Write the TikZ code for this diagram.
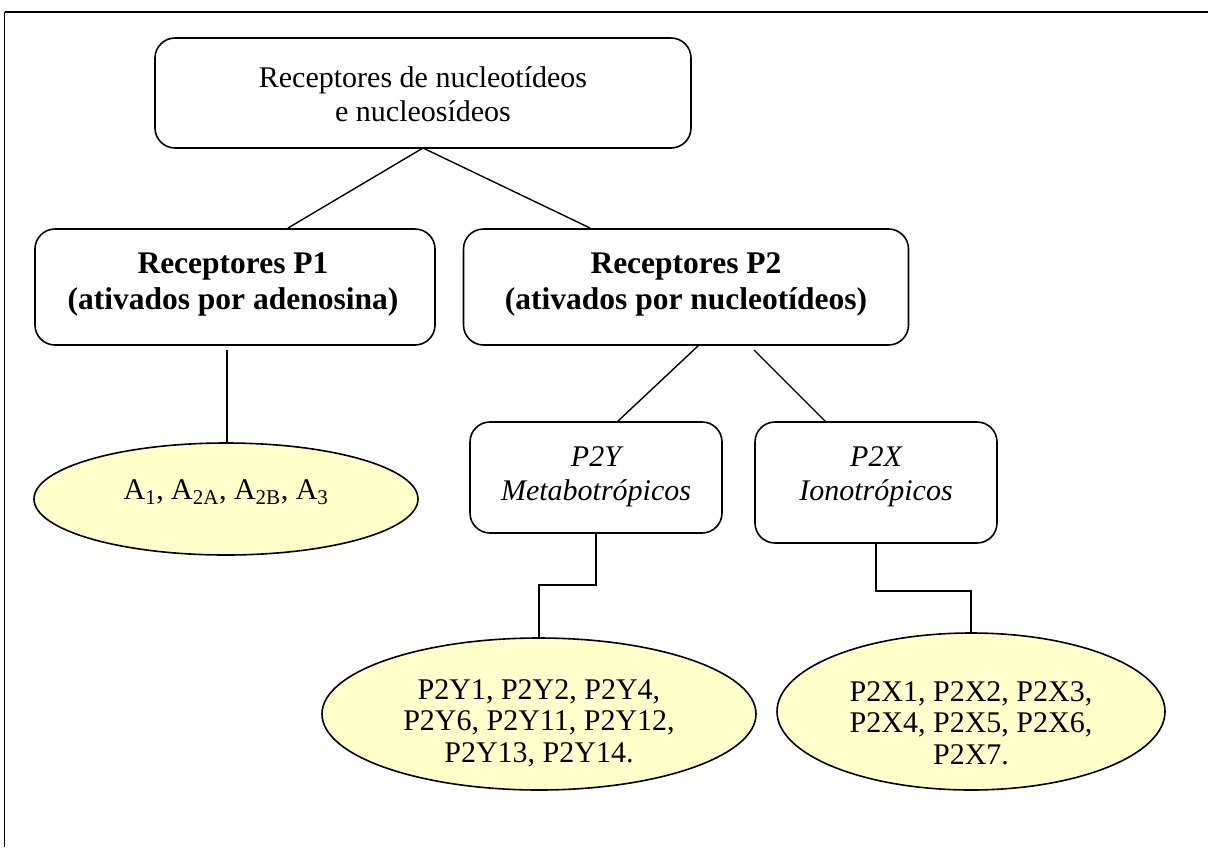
\documentclass[tikz,border=0pt]{standalone}
\usepackage{fontspec}
\setmainfont{Liberation Serif}
\usetikzlibrary{shapes.geometric}
\definecolor{paleyellow}{HTML}{FFFFCC}
\begin{document}
\begin{tikzpicture}[x=1pt,y=-1pt,
  box/.style={draw, line width=1.6pt, rounded corners=20pt, inner sep=0pt},
  ell/.style={draw, ellipse, line width=1.6pt, fill=paleyellow, inner sep=0pt},
  txt/.style={align=center, font=\fontsize{30}{34}\selectfont, inner sep=0pt},
  btxt/.style={txt, font=\fontsize{31.5}{36}\selectfont\bfseries},
  itxt/.style={txt, font=\fontsize{30}{34}\selectfont\itshape},
  etxt/.style={align=center, font=\fontsize{30}{31.5}\selectfont, inner sep=0pt},
  conn/.style={line width=1.4pt}]
\useasboundingbox (0,0) rectangle (1208,847);
% frame
\draw[line width=2.6pt] (1208,12) -- (4.5,12);
\draw[line width=1.6pt] (4.5,12) -- (4.5,847);
% boxes
\node[box, minimum width=536, minimum height=110] (top) at (423,93) {};
\node[txt] (toptext) at (423,94) {Receptores de nucleotídeos\\e nucleosídeos};
\node[box, minimum width=400, minimum height=116] (p1) at (235,287) {};
\node[btxt] (p1text) at (233,284) {Receptores P1\\(ativados por adenosina)};
\node[box, minimum width=445, minimum height=116] (p2) at (686,287) {};
\node[btxt] (p2text) at (686,284) {Receptores P2\\(ativados por nucleotídeos)};
\node[box, minimum width=252, minimum height=111] (p2y) at (596,477.5) {};
\node[itxt] (p2ytext) at (596,477) {P2Y\\Metabotrópicos};
\node[box, minimum width=242, minimum height=121] (p2x) at (876,482.5) {};
\node[itxt] (p2xtext) at (876,477) {P2X\\Ionotrópicos};
% ellipses
\node[ell, minimum width=384, minimum height=112] (ea) at (226,499) {};
\node[txt] (eatext) at (226,492) {A\textsubscript{1}, A\textsubscript{2A}, A\textsubscript{2B}, A\textsubscript{3}};
\node[ell, minimum width=434, minimum height=152] (ey) at (539,714) {};
\node[etxt] (eytext) at (539,723) {P2Y1, P2Y2, P2Y4,\\P2Y6, P2Y11, P2Y12,\\P2Y13, P2Y14.};
\node[ell, minimum width=388, minimum height=157] (ex) at (971,711.5) {};
\node[etxt] (extext) at (971,723) {P2X1, P2X2, P2X3,\\P2X4, P2X5, P2X6,\\P2X7.};
% connector anchor points
\coordinate (tb) at (423,148);
\coordinate (p1t) at (288,228);
\coordinate (p2t) at (590,228);
\coordinate (p1b) at (227,350);
\coordinate (p2bl) at (699,345);
\coordinate (p2br) at (754,350);
\coordinate (p2yt) at (617,422);
\coordinate (p2xt) at (826,422);
% connectors
\draw[conn] (tb) -- (p1t);
\draw[conn] (tb) -- (p2t);
\draw[conn] (p1b) -- (ea.north -| p1b);
\draw[conn] (p2bl) -- (p2yt);
\draw[conn] (p2br) -- (p2xt);
\draw[conn] (p2y.south) |- (ey.north |- 0,585) -- (ey.north);
\draw[conn] (p2x.south) |- (ex.north |- 0,591) -- (ex.north);
\end{tikzpicture}
\end{document}
